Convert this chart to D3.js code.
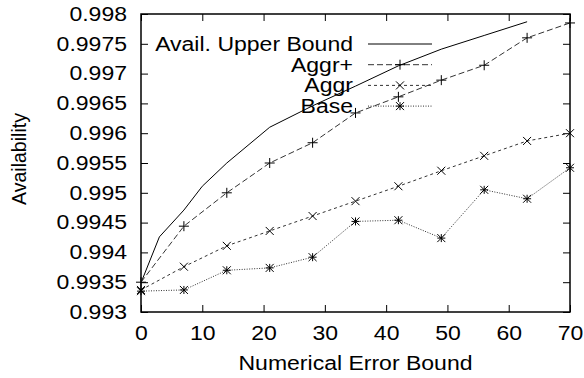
<!DOCTYPE html>
<html>
<head>
<meta charset="utf-8">
<script src="https://cdn.jsdelivr.net/npm/d3@7"></script>
<style>
  body { margin: 0; background: #fff; }
  text { font-family: "Liberation Sans", Arial, sans-serif; font-size: 19.5px; fill: #000; }
</style>
</head>
<body>
<div id="chart"></div>
<script>
// values
const upperX = [0, 3, 7, 10, 14, 21, 28, 35, 42, 49, 56, 63];
const upperY = [0.99349, 0.99426, 0.99471, 0.99511, 0.9955, 0.9961, 0.99646, 0.99679, 0.99713, 0.99741, 0.99764, 0.99787];

const errX = [0, 7, 14, 21, 28, 35, 42, 49, 56, 63, 70];
const aggrPlus = [0.9935, 0.99444, 0.995, 0.9955, 0.99584, 0.99634, 0.99661, 0.99689, 0.99714, 0.9976, 0.99785];
const aggr = [0.99337, 0.99376, 0.99411, 0.99436, 0.99461, 0.99486, 0.99511, 0.99537, 0.99562, 0.99587, 0.996];
const base = [0.99335, 0.99337, 0.9937, 0.99374, 0.99392, 0.99452, 0.99454, 0.99424, 0.99505, 0.9949, 0.99542];

const xTicks = [0, 10, 20, 30, 40, 50, 60, 70];
const yTicks = [0.993, 0.9935, 0.994, 0.9945, 0.995, 0.9955, 0.996, 0.9965, 0.997, 0.9975, 0.998];

const legendNames = ["Avail. Upper Bound", "Aggr+", "Aggr", "Base"];

const W = 584, H = 378;
const margin = {left: 141, right: 14, top: 14, bottom: 66};
const stretch = 1.18; // text in the picture is a bit wider than plain Arial

let svg = d3.select("#chart").append("svg")
            .attr("width", W)
            .attr("height", H);

let width = W - margin.left - margin.right;
let height = H - margin.top - margin.bottom;

let plot = svg.append("g")
              .attr("transform", "translate(" + margin.left + "," + margin.top + ")");

let x = d3.scaleLinear().domain([0, 70]).range([0, width]);
let y = d3.scaleLinear().domain([0.993, 0.998]).range([height, 0]);

// axes with inward ticks, mirrored on top and right
let fmtY = d => d3.format("")(+d.toFixed(4));
plot.append("g").attr("transform", "translate(0," + height + ")")
    .call(d3.axisBottom(x).tickValues(xTicks).tickSizeInner(-7).tickSizeOuter(0).tickPadding(14));
plot.append("g")
    .call(d3.axisLeft(y).tickValues(yTicks).tickFormat(fmtY).tickSizeInner(-7).tickSizeOuter(0).tickPadding(14));
plot.append("g")
    .call(d3.axisTop(x).tickValues(xTicks).tickSizeInner(-7).tickSizeOuter(0).tickFormat(""));
plot.append("g").attr("transform", "translate(" + width + ",0)")
    .call(d3.axisRight(y).tickValues(yTicks).tickSizeInner(-7).tickSizeOuter(0).tickFormat(""));

plot.selectAll(".domain").remove();
plot.selectAll(".tick line").attr("stroke", "#000");
svg.selectAll("g").attr("font-size", null).attr("font-family", null);

plot.append("rect")
    .attr("width", width).attr("height", height)
    .attr("fill", "none").attr("stroke", "#000").attr("stroke-width", 1.5);

// axis titles
svg.append("text")
   .attr("class", "wide")
   .attr("x", margin.left + width / 2).attr("y", 370)
   .attr("text-anchor", "middle")
   .text("Numerical Error Bound");
svg.append("text")
   .attr("transform", "translate(26,159) rotate(-90)")
   .attr("text-anchor", "middle")
   .text("Availability");

// series definitions
let series = [
  {xs: upperX, ys: upperY, dash: null, marker: null, color: "#000"},
  {xs: errX, ys: aggrPlus, dash: "6,3", marker: "plus", color: "#333"},
  {xs: errX, ys: aggr, dash: "3,3", marker: "cross", color: "#333"},
  {xs: errX, ys: base, dash: "1,1.5", marker: "star", color: "#333"}
];

function markerPath(kind, s) {
  let p = "M" + (-s) + ",0H" + s + "M0," + (-s) + "V" + s;
  let c = "M" + (-s) + "," + (-s) + "L" + s + "," + s + "M" + (-s) + "," + s + "L" + s + "," + (-s);
  if (kind == "plus") return p;
  if (kind == "cross") return c;
  return p + c;
}

let line = d3.line()
             .x(function(d) { return x(d[0]); })
             .y(function(d) { return y(d[1]); });

series.forEach(function(s, i) {
  let pts = s.xs.map((v, j) => [v, s.ys[j]]);
  plot.append("path")
      .datum(pts)
      .attr("d", line)
      .attr("fill", "none")
      .attr("stroke", s.color)
      .attr("stroke-width", 1)
      .attr("stroke-dasharray", s.dash);
  if (s.marker) {
    plot.selectAll(".m" + i)
        .data(pts)
        .enter()
          .append("path")
          .attr("class", "m" + i)
          .attr("transform", d => "translate(" + x(d[0]) + "," + y(d[1]) + ")")
          .attr("d", markerPath(s.marker, s.marker == "plus" ? 5 : 4))
          .attr("fill", "none")
          .attr("stroke", "#000")
          .attr("stroke-width", 1);
  }
});

// legend, right-aligned text with a line sample
let legend = svg.append("g");
series.forEach(function(s, i) {
  let base = 51 + i * 20.7;
  legend.append("text")
        .attr("class", "wide")
        .attr("x", 353).attr("y", base)
        .attr("text-anchor", "end")
        .text(legendNames[i]);
  legend.append("line")
        .attr("x1", 368).attr("x2", 432)
        .attr("y1", base - 7).attr("y2", base - 7)
        .attr("stroke", s.color)
        .attr("stroke-dasharray", s.dash);
  if (s.marker) {
    legend.append("path")
          .attr("transform", "translate(400," + (base - 7) + ")")
          .attr("d", markerPath(s.marker, s.marker == "plus" ? 5 : 4))
          .attr("fill", "none")
          .attr("stroke", "#000");
  }
});

// widen the horizontal texts a little to match the picture
svg.selectAll(".tick text, text.wide").each(function() {
  let len = this.getComputedTextLength();
  d3.select(this)
    .attr("textLength", len * stretch)
    .attr("lengthAdjust", "spacingAndGlyphs");
});
</script>
</body>
</html>
